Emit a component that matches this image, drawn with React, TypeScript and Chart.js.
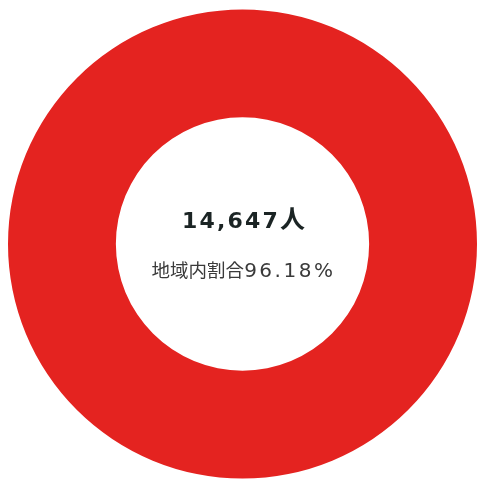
import React, { useEffect, useRef } from "react";
import { Chart, registerables } from "chart.js";

Chart.register(...registerables);

const categories: string[] = ["地域内"];
const values: number[] = [14647];
const colors: string[] = ["#E42320"];
const totalLabel = "14,647";
const unitLabel = "人";
const shareCaption = "地域内割合";
const shareValue = "96.18%";

export default function App() {
  const ref = useRef<HTMLCanvasElement | null>(null);
  useEffect(() => {
    if (!ref.current) return;
    const chart = new Chart(ref.current, {
      type: "doughnut",
      data: {
        labels: categories,
        datasets: [
          {
            data: values,
            backgroundColor: colors,
            borderWidth: 0,
          },
        ],
      },
      options: {
        animation: false,
        responsive: false,
        cutout: "54%",
        layout: { padding: { left: 8, right: 0, top: 9, bottom: 5 } },
        plugins: {
          legend: { display: false },
          tooltip: { enabled: false },
        },
      },
    });
    return () => chart.destroy();
  }, []);

  return (
    <div style={{ position: "fixed", left: 0, top: 0, width: 477, height: 484, background: "#fff" }}>
      <canvas ref={ref} width={477} height={484} style={{ display: "block" }} />
      <div
        style={{
          position: "absolute",
          left: 0,
          width: 487,
          top: 201,
          height: 32,
          lineHeight: "32px",
          textAlign: "center",
          color: "#1b2424",
          fontWeight: 700,
          whiteSpace: "nowrap",
        }}
      >
        <span style={{ fontFamily: "'DejaVu Sans'", fontSize: 22, letterSpacing: 2.2 }}>{totalLabel}</span>
        <span style={{ fontFamily: "'Noto Sans CJK JP'", fontSize: 25 }}>{unitLabel}</span>
      </div>
      <div
        style={{
          position: "absolute",
          left: 0,
          width: 487,
          top: 254,
          height: 30,
          lineHeight: "30px",
          textAlign: "center",
          color: "#3a3a3a",
          whiteSpace: "nowrap",
        }}
      >
        <span style={{ fontFamily: "'Noto Sans CJK JP'", fontSize: 18.5 }}>{shareCaption}</span>
        <span style={{ fontFamily: "'DejaVu Sans'", fontSize: 20, letterSpacing: 2.5 }}>{shareValue}</span>
      </div>
    </div>
  );
}
